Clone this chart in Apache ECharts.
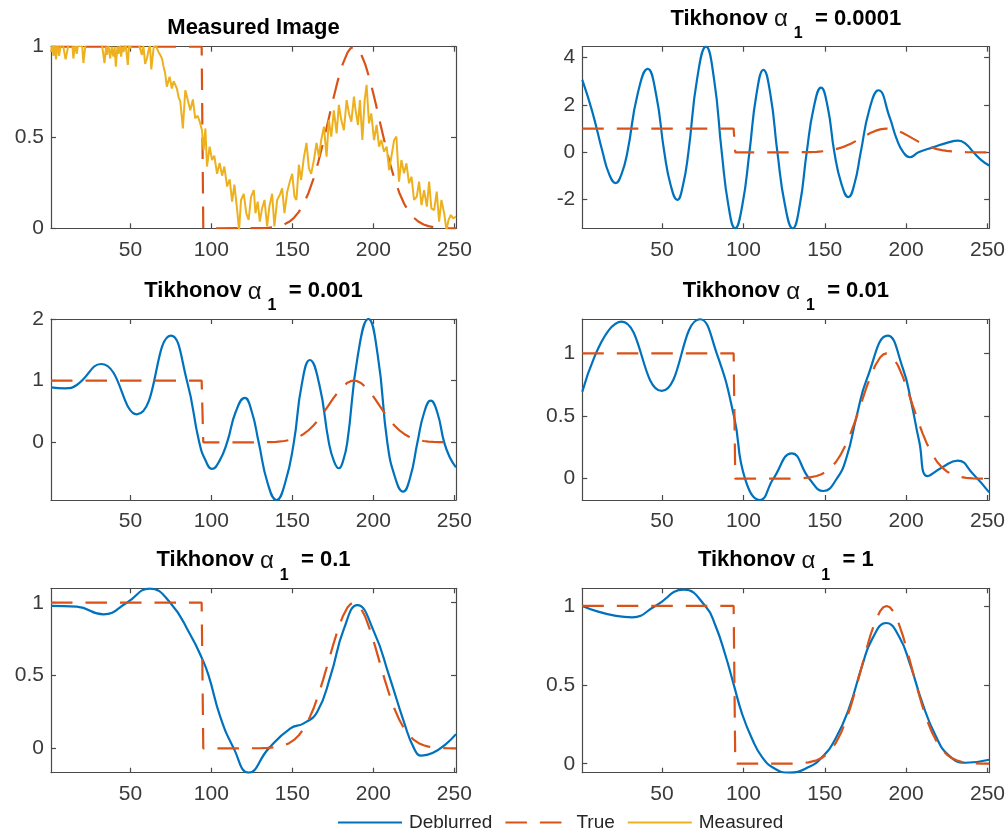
<!DOCTYPE html>
<html>
<head>
<meta charset="utf-8">
<title>Tikhonov deblurring</title>
<script src="https://cdn.jsdelivr.net/npm/echarts@6/dist/echarts.min.js"></script>
<style>
  html, body { margin: 0; padding: 0; background: #ffffff; }
  #chart { width: 1008px; height: 837px; }
</style>
</head>
<body>
<div id="chart"></div>
<script>
// ---- data ---------------------------------------------------------------
const xTicks = [50, 100, 150, 200, 250];

// panel titles (first panel is the blurred, noisy input)
const alphas = ['0.0001', '0.001', '0.01', '0.1', '1'];

// y-axis extents and tick labels per panel
const yMin = [0, -3.21, -0.935, -0.17, -0.167, -0.057];
const yMax = [1, 4.46, 2.0, 1.274, 1.099, 1.112];
const yTicks = [[0, 0.5, 1], [-2, 0, 2, 4], [0, 1, 2], [0, 0.5, 1], [0, 0.5, 1], [0, 0.5, 1]];

// true signal: plateau, step down, then a smooth bump
const trueX = [1, 94, 95, 130, 135, 140, 145, 148, 151, 154, 157, 160, 163, 166, 169, 172, 175, 178, 181, 184, 186, 188,
  190, 192, 195, 198, 201, 204, 207, 210, 213, 216, 219, 222, 225, 228, 231, 234, 237, 241, 246, 251];
const trueY = [1, 1, 0, 0.0009, 0.0029, 0.0083, 0.0213, 0.0358, 0.0579, 0.0902, 0.1353, 0.196, 0.272, 0.365, 0.472,
  0.587, 0.704, 0.812, 0.903, 0.967, 0.992, 1, 0.992, 0.967, 0.903, 0.812, 0.704, 0.587, 0.472, 0.365, 0.272,
  0.196, 0.1353, 0.0902, 0.0579, 0.0358, 0.0213, 0.0122, 0.0068, 0.0029, 0.0009, 0.0003];

// measured (blurred + noisy) signal
const measX = [1, 2, 2.5, 3.3, 4.1, 5, 6, 7, 8, 9, 10, 11, 12, 13, 14, 14.8, 16, 16.9, 18, 19, 20, 21, 22.4, 24, 26, 28,
  30, 32, 33, 34, 35, 35.5, 36.5, 37.5, 38.5, 39.5, 40.3, 41, 42, 42.6, 43.5, 44.3, 45, 45.7, 47, 48.4, 49.2, 49.9,
  51, 53, 55, 56, 57.1, 58, 59.1, 60.2, 61.2, 62.1, 62.9, 64.3, 65, 66, 67.4, 68.4, 69.5, 70.5, 71.5, 72.5, 74.2,
  75.6, 76.7, 77.7, 78.7, 79.8, 80.8, 82.4, 83.9, 85.3, 87, 88.6, 90, 91.5, 92.8, 94.2, 95.2, 96.3, 97.3, 98.9,
  100.4, 101.8, 103.5, 105.1, 106.6, 108, 109.7, 111.3, 112.8, 114.2, 115.8, 117.1, 118.3, 120, 121.6, 123, 124.5,
  126.2, 127.2, 128.6, 129.9, 131.3, 132.8, 134.4, 135.8, 137.5, 138.9, 140.6, 142.2, 143.7, 145.1, 146.8, 148.4,
  149.9, 151.3, 152.5, 154, 155.4, 157.1, 158.7, 160.2, 161.6, 163.3, 164.9, 166.4, 167.8, 169.5, 171.1, 172.5,
  174, 175.6, 177.3, 178.7, 180.2, 181.8, 183.5, 184.9, 186.4, 188, 189, 190.5, 191.7, 193.2, 194.6, 195.8, 197.3,
  198.7, 200.4, 202, 203.5, 204.9, 206.6, 208.2, 209.7, 211.1, 212.8, 214.2, 215.8, 217.3, 218.9, 220.4, 222,
  223.5, 225.1, 226.8, 228.2, 229.7, 231.3, 233, 234.4, 235.8, 237.5, 239.1, 240.6, 242, 243.7, 245.1, 246.4,
  247.8, 249.3, 251];
const measY = [0.97, 1.02, 0.95, 1.01, 0.93, 1.02, 0.95, 1.01, 1.03, 0.98, 0.93, 0.925, 1.02, 1.01, 1.03, 0.935, 1.02,
  0.96, 1.03, 1.0, 1.04, 0.91, 1.02, 1.05, 1.03, 1.06, 1.02, 1.04, 1.03, 0.91, 1.0, 0.955, 1.01, 0.935, 1.0, 0.945,
  1.0, 0.89, 1.0, 0.96, 1.01, 0.945, 1.0, 0.97, 1.02, 0.90, 1.01, 0.99, 1.03, 1.05, 1.02, 1.01, 0.955, 1.01, 0.905,
  0.935, 0.98, 1.01, 0.875, 0.99, 1.02, 1.0, 0.97, 0.955, 0.935, 0.89, 0.853, 0.78, 0.835, 0.77, 0.81, 0.816, 0.77,
  0.72, 0.70, 0.55, 0.76, 0.71, 0.65, 0.71, 0.605, 0.62, 0.587, 0.54, 0.43, 0.55, 0.34, 0.45, 0.376, 0.40, 0.30,
  0.36, 0.29, 0.34, 0.23, 0.27, 0.147, 0.24, 0.11, -0.01, 0.156, 0.19, 0.08, 0.046, 0.174, 0.21, 0.083, 0.147,
  0.037, 0.11, 0.156, 0.01, 0.12, 0.19, 0.01, 0.156, 0.183, 0.22, 0.083, 0.2, 0.257, 0.30, 0.174, 0.156, 0.35,
  0.266, 0.39, 0.47, 0.33, 0.30, 0.376, 0.47, 0.394, 0.486, 0.56, 0.394, 0.596, 0.505, 0.65, 0.523, 0.68, 0.596,
  0.54, 0.706, 0.633, 0.587, 0.725, 0.651, 0.569, 0.706, 0.486, 0.706, 0.79, 0.578, 0.633, 0.486, 0.569, 0.45,
  0.486, 0.422, 0.45, 0.32, 0.394, 0.486, 0.505, 0.257, 0.376, 0.303, 0.358, 0.248, 0.284, 0.156, 0.174, 0.257,
  0.128, 0.21, 0.119, 0.257, 0.11, 0.1, 0.202, 0.037, 0.156, 0.083, -0.01, 0.046, 0.073, 0.055, 0.064];

// deblurred reconstructions, one per regularisation weight
const deb0001X = [1, 7, 13.5, 17.5, 21.5, 25.1, 28.7, 35, 41.2, 46.3, 51.4, 55.4, 59.4, 62.8, 66.2, 71.6, 77, 81.9,
  86.7, 90.8, 94.9, 99.3, 103.7, 108, 112.3, 116.6, 120.9, 125.6, 130.3, 134.6, 138.9, 143.3, 147.7, 151.8, 155.9,
  160.2, 164.5, 168.3, 172.1, 177.5, 183, 190, 194, 198.3, 202.4, 207.6, 217, 225, 232.1, 236.8, 241.4, 246, 251];
const deb0001Y = [3.06, 1.75, 0, -0.92, -1.30, -0.92, 0, 2.46, 3.52, 2.46, 0, -1.41, -2.01, -1.41, 0, 3.12, 4.46, 3.12,
  0, -2.25, -3.21, -2.25, 0, 2.44, 3.48, 2.44, 0, -2.25, -3.21, -2.25, 0, 1.91, 2.73, 1.91, 0,
  -1.32, -1.89, -1.32, 0, 1.83, 2.62, 1.45, 0.6, 0, -0.21, 0, 0.22, 0.4, 0.49, 0.35, 0, -0.32, -0.56];

const deb001X = [1, 9.7, 16.9, 31.9, 54, 75, 84.9, 92.5, 96.5, 100.4, 105, 109.7, 115.1, 120.6, 124.9,
  129.2, 134.7, 140.2, 145.5, 150.9, 155.8, 160.8, 166.6, 172.5, 175.6, 178.7, 181.3, 183.9, 190.4, 196.9, 202.7,
  208.6, 213.4, 218.3, 222.7, 227.2, 231.3, 235.4, 239.5, 243.7, 247.3, 251];
const deb001Y = [0.89, 0.876, 0.93, 1.27, 0.454, 1.73, 1.0, 0, -0.3, -0.43, -0.3, 0, 0.5, 0.72, 0.5,
  0, -0.66, -0.935, -0.66, 0, 0.94, 1.335, 0.94, 0, -0.3, -0.42, -0.3, 0, 1.41, 2.0, 1.41,
  0, -0.57, -0.80, -0.57, 0, 0.48, 0.676, 0.48, 0, -0.25, -0.405];

const deb01X = [1, 25.2, 49.8, 73.3, 83.6, 94.2, 101, 110.2, 118.4, 129.7, 140.5, 149.2, 157.4, 163.5, 169.6, 176,
  188.7, 198, 203, 208, 213.3, 222, 231.7, 241, 251];
const deb01Y = [0.694, 1.253, 0.70, 1.272, 1.0, 0.5, 0, -0.17, 0, 0.202, 0, -0.098, 0, 0.175, 0.5, 0.8,
  1.141, 0.88, 0.62, 0.3, 0.021, 0.09, 0.144, 0.04, -0.109];

const deb1X = [1, 16.9, 33.4, 47.8, 61.8, 74.6, 87, 94.2, 98.3, 105.5, 113.8, 123, 135.4, 148.8, 157, 165.3, 173.6,
  181.8, 190.1, 200.4, 209.7, 218.9, 225.1, 229.7, 251];
const deb1Y = [0.979, 0.973, 0.92, 1.0, 1.097, 1.0, 0.78, 0.618, 0.5, 0.217, 0, -0.167, 0, 0.137, 0.172, 0.25, 0.5,
  0.82, 0.984, 0.80, 0.5, 0.18, 0, -0.05, 0.098];

const deb10X = [1, 31.6, 45.9, 63.3, 76.6, 82.8, 89, 94.1, 99.2, 105.3, 111.5, 118.6, 127.9, 140.2, 148.4, 156.6,
  164.8, 173, 179.1, 187.7, 195.5, 202.7, 209.8, 218, 226.2, 236.5, 251];
const deb10Y = [1.0, 0.928, 1.0, 1.103, 1.0, 0.876, 0.686, 0.5, 0.316, 0.158, 0.042, -0.027, -0.057, -0.021, 0.042,
  0.158, 0.348, 0.622, 0.79, 0.892, 0.81, 0.622, 0.39, 0.18, 0.053, 0.006, 0.025];

const deblurredX = [deb0001X, deb001X, deb01X, deb1X, deb10X];
const deblurredY = [deb0001Y, deb001Y, deb01Y, deb1Y, deb10Y];

// ---- styling ------------------------------------------------------------
const FONT = '"Liberation Sans", Arial, Helvetica, sans-serif';
const AXIS_COLOR = '#4a4a4a';
const LABEL_COLOR = '#3a3a3a';
const C_DEB = '#0072BD';
const C_TRUE = '#D95319';
const C_MEAS = '#EDB120';
const DASH = [21.5, 13];

// 3 x 2 panel layout in pixels
const panels = [
  { left: 51,    top: 46.7,  width: 405, height: 181.6 },
  { left: 582.3, top: 46.7,  width: 407, height: 181.6 },
  { left: 51,    top: 319,   width: 405, height: 181 },
  { left: 582.3, top: 319,   width: 407, height: 181 },
  { left: 51,    top: 588.3, width: 405, height: 184.4 },
  { left: 582.3, top: 588.3, width: 407, height: 184.4 }
];

const pairs = (xs, ys) => xs.map((x, i) => [x, ys[i]]);

const grid = [], xAxis = [], yAxis = [], series = [], title = [];
const lineAxis = { show: true, onZero: false, lineStyle: { color: AXIS_COLOR, width: 1.2 } };
const tickStyle = { color: AXIS_COLOR, width: 1.2 };
const labelStyle = { fontSize: 21, fontFamily: FONT, color: LABEL_COLOR };

panels.forEach((p, i) => {
  grid.push({ left: p.left, top: p.top, width: p.width, height: p.height });

  ['bottom', 'top'].forEach((pos) => {
    xAxis.push({
      gridIndex: i, type: 'value', position: pos, min: 1, max: 251,
      axisLine: lineAxis,
      axisTick: { show: true, inside: true, length: 5, customValues: xTicks, lineStyle: tickStyle },
      axisLabel: pos === 'bottom'
        ? Object.assign({ show: true, margin: 11, customValues: xTicks }, labelStyle)
        : { show: false },
      splitLine: { show: false }
    });
  });
  ['left', 'right'].forEach((pos) => {
    yAxis.push({
      gridIndex: i, type: 'value', position: pos, min: yMin[i], max: yMax[i],
      axisLine: lineAxis,
      axisTick: { show: true, inside: true, length: 5, customValues: yTicks[i], lineStyle: tickStyle },
      axisLabel: pos === 'left'
        ? Object.assign({ show: true, margin: 7, customValues: yTicks[i] }, labelStyle)
        : { show: false },
      splitLine: { show: false }
    });
  });

  const cx = p.left + p.width / 2;
  if (i === 0) {
    title.push({
      text: 'Measured Image', left: cx, top: p.top - 29.5, textAlign: 'center', padding: 0,
      textStyle: { fontFamily: FONT, fontSize: 22, fontWeight: 'bold', color: '#000000' }
    });
  } else {
    title.push({
      text: '{b|Tikhonov }{g|α}{s|1}{b|  = ' + alphas[i - 1] + '}',
      left: cx, top: p.top - 39, textAlign: 'center', padding: 0,
      textStyle: {
        rich: {
          b: { fontFamily: FONT, fontSize: 22, fontWeight: 'bold', color: '#000000', lineHeight: 33, verticalAlign: 'top' },
          g: { fontFamily: FONT, fontSize: 24, fontWeight: 'normal', color: '#111111', lineHeight: 33, verticalAlign: 'top' },
          s: { fontFamily: FONT, fontSize: 16, fontWeight: 'bold', color: '#000000', height: 14, verticalAlign: 'bottom', padding: [0, 0, 0, 6] }
        }
      }
    });
  }

  const common = {
    type: 'line', xAxisIndex: 2 * i, yAxisIndex: 2 * i,
    symbol: 'none', showSymbol: false, clip: true, animation: false, silent: true
  };
  if (i === 0) {
    series.push(Object.assign({}, common, {
      name: 'True', data: pairs(trueX, trueY),
      lineStyle: { color: C_TRUE, width: 2.2, type: DASH }, itemStyle: { color: C_TRUE }
    }));
    series.push(Object.assign({}, common, {
      name: 'Measured', data: pairs(measX, measY),
      lineStyle: { color: C_MEAS, width: 2 }, itemStyle: { color: C_MEAS }
    }));
  } else {
    series.push(Object.assign({}, common, {
      name: 'Deblurred', data: pairs(deblurredX[i - 1], deblurredY[i - 1]),
      smooth: 0.5,
      lineStyle: { color: C_DEB, width: 2.2 }, itemStyle: { color: C_DEB }
    }));
    series.push(Object.assign({}, common, {
      name: 'True', data: pairs(trueX, trueY),
      lineStyle: { color: C_TRUE, width: 2.2, type: DASH }, itemStyle: { color: C_TRUE }
    }));
  }
});

const chart = echarts.init(document.getElementById('chart'), null, { renderer: 'canvas' });
chart.setOption({
  backgroundColor: '#ffffff',
  animation: false,
  title: title,
  grid: grid,
  xAxis: xAxis,
  yAxis: yAxis,
  legend: {
    data: ['Deblurred', 'True', 'Measured'],
    left: 337, top: 813, padding: 0,
    itemWidth: 64, itemHeight: 24, itemGap: 12,
    itemStyle: { opacity: 0 },
    textStyle: { fontFamily: FONT, fontSize: 19, color: '#262626', padding: [0, 0, 0, 2] }
  },
  series: series
});
</script>
</body>
</html>
